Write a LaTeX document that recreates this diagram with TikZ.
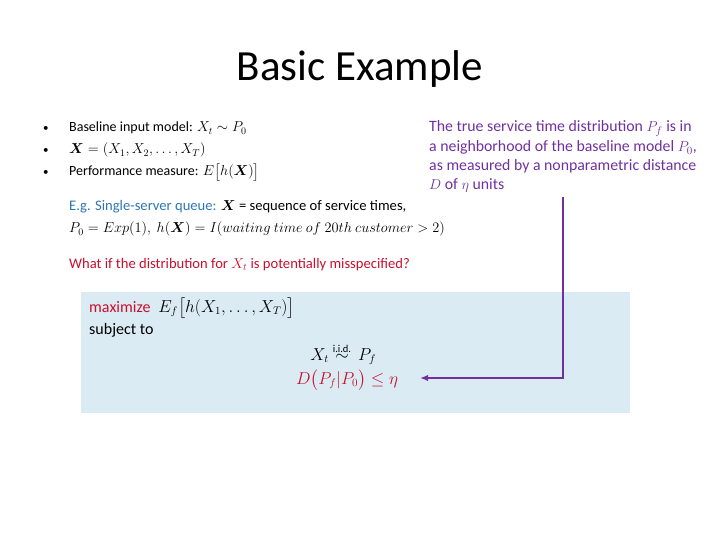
\documentclass[tikz,border=0pt]{standalone}
\usepackage{amsmath}
\usepackage{bm}
\usepackage{fontspec}
\setmainfont{Carlito}
\usetikzlibrary{arrows.meta}

\definecolor{egblue}{RGB}{46,117,182}
\definecolor{warnred}{RGB}{200,16,46}
\definecolor{notepurple}{RGB}{112,48,160}
\definecolor{boxfill}{RGB}{218,235,243}

\tikzset{
  body/.style={anchor=base west, inner sep=0pt, font=\fontsize{14}{17}\selectfont},
  bodybig/.style={body, font=\fontsize{14.6}{17}\selectfont},
  note/.style={body, text=notepurple, font=\fontsize{15.8}{19}\selectfont},
  inbox/.style={body, font=\fontsize{16}{19}\selectfont},
}

\begin{document}
\begin{tikzpicture}[x=1pt, y=-1pt]
  \useasboundingbox (0,0) rectangle (720,540);
  \node[inner sep=0pt, font=\fontsize{43}{50}\selectfont] (title) at (360,69) {Basic Example};

  \node[body, font=\fontsize{11}{13}\selectfont] (b1) at (43,132) {\textbullet};
  \node[body, font=\fontsize{11}{13}\selectfont] (b2) at (43,154) {\textbullet};
  \node[body, font=\fontsize{11}{13}\selectfont] (b3) at (43,176) {\textbullet};
  \node[body] (l1) at (69,132) {Baseline input model: $X_t\sim P_0$};
  \node[body] (l2) at (69,154) {$\bm{X}=(X_1,X_2,\dots,X_T)$};
  \node[body] (l3) at (69,176) {Performance measure: $E\bigl[h(\bm{X})\bigr]$};

  \node[bodybig] (eg1) at (69,211) {\textcolor{egblue}{E.g. Single-server queue:} $\bm{X}$ = sequence of service times,};
  \node[bodybig] (eg2) at (69,233) {$P_0=Exp(1),\ h(\bm{X})=I(waiting\ time\ of\ 20th\ customer>2)$};
  \node[bodybig, text=warnred] (what) at (69,268) {What if the distribution for $X_t$ is potentially misspecified?};

  \node[note] (n1) at (429,132) {The true service time distribution $P_f$ is in};
  \node[note] (n2) at (429,152) {a neighborhood of the baseline model $P_0$,};
  \node[note] (n3) at (429,171) {as measured by a nonparametric distance};
  \node[note] (n4) at (429,190) {$D$ of $\eta$ units};

  % optimisation problem
  \node[fill=boxfill, anchor=north west, inner sep=0pt, minimum width=549pt, minimum height=121pt] (optbox) at (81,292) {};
  \node[inbox] (obj) at (89,312) {\textcolor{warnred}{maximize}\enspace$E_f\bigl[h(X_1,\dots,X_T)\bigr]$};
  \node[inbox] (subj) at (89,334) {subject to};
  \node[inbox, anchor=base] (simrel) at (342,360) {$\sim$};
  \node[inbox, anchor=base east] (xt) at ([xshift=-6pt]simrel.base west) {$X_t$};
  \node[inbox] (pf) at ([xshift=9pt]simrel.base east) {$P_f$};
  \node[inner sep=0pt, anchor=south, font=\fontsize{10.5}{12}\selectfont] (iid) at ([yshift=1pt]simrel.north) {i.i.d.};
  \node[inbox, anchor=base, text=warnred] (cons) at (347,384) {$D\bigl(P_f|P_0\bigr)\le\eta$};

  \coordinate (bend) at (563,378);
  \draw[notepurple, line width=2.2pt, -{Latex[length=8pt,width=6.5pt]}]
    (bend |- n4.south) ++(0,4) -- (bend) -- (420,378);
\end{tikzpicture}
\end{document}
